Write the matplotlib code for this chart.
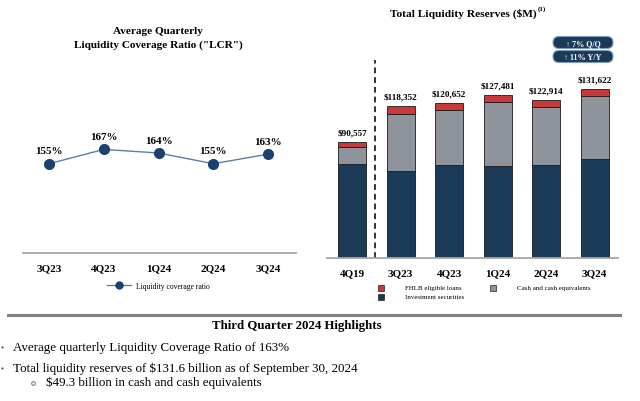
import matplotlib
matplotlib.use("Agg")
import matplotlib.pyplot as plt
from matplotlib.patches import FancyBboxPatch, Rectangle
from matplotlib.lines import Line2D

plt.rcParams['font.family'] = ['Liberation Serif', 'DejaVu Serif']

# ---- data ----
lcr_quarters = ["3Q23", "4Q23", "1Q24", "2Q24", "3Q24"]
lcr_values = [155, 167, 164, 155, 163]

res_quarters = ["4Q19", "3Q23", "4Q23", "1Q24", "2Q24", "3Q24"]
investment_securities = [73557, 67552, 72652, 71381, 72714, 76922]
cash_equivalents = [13000, 45000, 43000, 50600, 45200, 49300]
fhlb_loans = [4000, 5800, 5000, 5500, 5000, 5400]
res_totals = [90557, 118352, 120652, 127481, 122914, 131622]

badges = ["\u2191 7% Q/Q", "\u2191 11% Y/Y"]
highlights_title = "Third Quarter 2024 Highlights"
bullets = ["Average quarterly Liquidity Coverage Ratio of 163%",
           "Total liquidity reserves of $131.6 billion as of September 30, 2024"]
sub_bullets = ["$49.3 billion in cash and cash equivalents"]

NAVY = "#1b3a57"
GRAY = "#8f949c"
RED = "#c9383a"
LINE = "#5b7ea6"
MARK = "#1c4170"

W, H = 640, 402
fig = plt.figure(figsize=(6.4, 4.02), dpi=100)

def fx(px):
    return px / W

def fy(py):
    return 1 - py / H

# overlay axes in pixel coordinates for annotations
ov = fig.add_axes([0, 0, 1, 1], zorder=5)
ov.set_xlim(0, W)
ov.set_ylim(H, 0)
ov.axis('off')
ov.patch.set_alpha(0)

# ---- left chart ----
axL = fig.add_axes([fx(23), fy(254), fx(296 - 23), (254 - 104) / H])
x = list(range(len(lcr_quarters)))
axL.plot(x, lcr_values, color=LINE, lw=1.0, marker='o', markersize=7,
         markerfacecolor=MARK, markeredgecolor=MARK, zorder=3)
for xi, v in zip(x, lcr_values):
    axL.annotate(f"{v}%", (xi, v), xytext=(0, 6), textcoords='offset points',
                 ha='center', va='bottom', fontsize=8, fontweight='bold')
axL.set_xlim(-0.475, 4.51)
axL.set_ylim(80, 206)
axL.set_xticks(x)
axL.set_xticklabels(lcr_quarters, fontsize=8, fontweight='bold')
axL.tick_params(axis='x', length=0, pad=7)
axL.set_yticks([])
for s in ['top', 'right', 'left']:
    axL.spines[s].set_visible(False)
axL.spines['bottom'].set_color('#a6a6a6')
axL.spines['bottom'].set_linewidth(1.3)
ov.text(158, 32, "Average Quarterly", ha='center', va='center',
        fontsize=8.1, fontweight='bold')
ov.text(158, 45, 'Liquidity Coverage Ratio ("LCR")', ha='center',
        va='center', fontsize=8.1, fontweight='bold')
leg_handle = Line2D([], [], color=LINE, lw=1.0, marker='o', markersize=5,
                    markerfacecolor=MARK, markeredgecolor=MARK)
fig.legend([leg_handle], ["Liquidity coverage ratio"], loc='center',
           bbox_to_anchor=(fx(158), fy(287)), frameon=False, fontsize=5.5,
           handlelength=3.2, handletextpad=0.6)

# ---- right chart ----
axR = fig.add_axes([fx(327), fy(259), fx(618 - 327), (259 - 59) / H])
xr = list(range(len(res_quarters)))
bw = 0.57
axR.bar(xr, investment_securities, bw, color=NAVY, edgecolor='#1a1a1a', lw=0.6,
        zorder=2)
b2 = [a for a in investment_securities]
axR.bar(xr, cash_equivalents, bw, bottom=b2, color=GRAY, edgecolor='#1a1a1a',
        lw=0.6, zorder=2)
b3 = [a + b for a, b in zip(investment_securities, cash_equivalents)]
axR.bar(xr, fhlb_loans, bw, bottom=b3, color=RED, edgecolor='#1a1a1a', lw=0.6,
        zorder=2)
for xi, t, a, b, c in zip(xr, res_totals, investment_securities,
                          cash_equivalents, fhlb_loans):
    axR.annotate(f"${t:,}", (xi, a + b + c), xytext=(0, 4),
                 textcoords='offset points', ha='center', va='bottom',
                 fontsize=6.6, fontweight='bold')
axR.axvline(0.46, ymin=0, ymax=(259 - 61) / 200, color='#333333', lw=1.4,
            ls=(0, (3, 2)))
axR.set_xlim(-0.52, 5.48)
axR.set_ylim(0, 156000)
axR.set_xticks(xr)
axR.set_xticklabels(res_quarters, fontsize=8, fontweight='bold')
axR.tick_params(axis='x', length=0, pad=7)
axR.set_yticks([])
for s in ['top', 'right', 'left']:
    axR.spines[s].set_visible(False)
axR.spines['bottom'].set_color('#a6a6a6')
axR.spines['bottom'].set_linewidth(1.3)
ov.text(537, 13.5, "Total Liquidity Reserves ($M)", ha='right',
        va='center', fontsize=8.2, fontweight='bold')
ov.text(538, 9.5, "(1)", ha='left', va='center', fontsize=5,
        fontweight='bold')

# badges
for i, txt in enumerate(badges):
    y0 = 37.5 + i * 14
    p = FancyBboxPatch((553, y0), 60, 12,
                       boxstyle="round,pad=0,rounding_size=6",
                       facecolor=NAVY, edgecolor='#7d9cc0', lw=0.8,
                       mutation_aspect=1)
    ov.add_patch(p)
    ov.text(583, y0 + 6.3, txt, ha='center', va='center', color='white',
            fontsize=5.8, fontweight='bold',
            family=['Liberation Serif', 'DejaVu Sans'])

# legend right
leg_items = [(381, 289, RED, "FHLB eligible loans"),
             (493, 289, GRAY, "Cash and cash equivalents"),
             (381, 298, NAVY, "Investment securities")]
for px, py, col, lab in leg_items:
    ov.add_patch(Rectangle((px - 3, py - 3), 6, 6, facecolor=col,
                           edgecolor='#222222', lw=0.5))
    ov.text(px + 24, py, lab, ha='left', va='center', fontsize=5)

# ---- bottom highlights ----
ov.plot([8, 620], [316, 316], color='#808080', lw=2.2)
ov.text(297, 326.5, highlights_title, ha='center', va='center',
        fontsize=9.3, fontweight='bold')
bullet_y = [348, 369]
for by, t in zip(bullet_y, bullets):
    ov.plot([1.5], [by], marker='o', ms=1.6, color='#555555', mew=0)
    ov.text(13, by, t, ha='left', va='center', fontsize=9.4)
for t in sub_bullets:
    ov.plot([33], [383.5], marker='o', ms=2.6, mfc='none', mec='#555555',
            mew=0.6)
    ov.text(46, 383, t, ha='left', va='center', fontsize=9.4)

fig.savefig("out.png", dpi=100)
